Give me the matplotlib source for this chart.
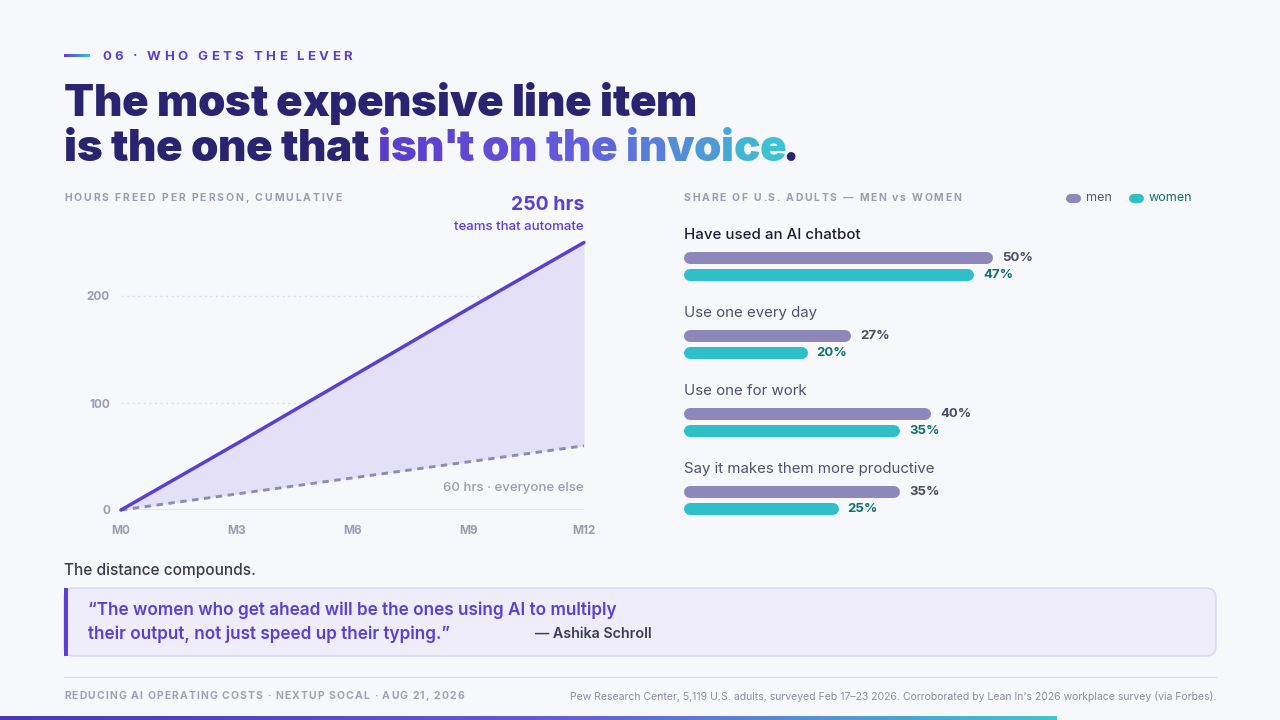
import matplotlib
import numpy as np

matplotlib.use("Agg")
import matplotlib.pyplot as plt  # noqa: E402
from matplotlib.colors import LinearSegmentedColormap  # noqa: E402
from matplotlib.patches import FancyBboxPatch, Rectangle  # noqa: E402

# ---- data -------------------------------------------------------------
months = [0, 3, 6, 9, 12]
month_labels = ["M0", "M3", "M6", "M9", "M12"]
hours_automate = [0, 62, 125, 188, 250]
hours_else = [0, 15, 30, 45, 60]
y_ticks = [0, 100, 200]

questions = [
    "Have used an AI chatbot",
    "Use one every day",
    "Use one for work",
    "Say it makes them more productive",
]
men_pct = [50, 27, 40, 35]
women_pct = [47, 20, 35, 25]

# ---- style ------------------------------------------------------------
BG = "#f7f8fc"
INK = "#2a2370"
PURPLE = "#5b3fd0"
MUTED = "#9d9bb0"
MEN = "#8e87b9"
WOMEN = "#2fbfc8"
MEN_TEXT = "#4c4b60"
WOMEN_TEXT = "#136f6c"
FILL = "#e4e0f8"

plt.rcParams["font.family"] = ["Inter", "DejaVu Sans"]

fig = plt.figure(figsize=(12.8, 7.2), dpi=100, facecolor=BG)
canvas = fig.add_axes([0, 0, 1, 1])
canvas.set_autoscale_on(False)
canvas.set_xlim(0, 1280)
canvas.set_ylim(720, 0)
canvas.axis("off")
renderer = fig.canvas.get_renderer()


def text_width(s, **kw):
    t = canvas.text(0, 0, s, **kw)
    w = t.get_window_extent(renderer).width
    t.remove()
    return w


def tracked_text(x, y, s, target=None, gap=None, colors=None, kern=None, **kw):
    # letter-spaced text: each glyph right-aligned to where it ends naturally, plus tracking
    if gap is None:
        gap = (target - text_width(s, **kw)) / max(len(s) - 1, 1)
    shift = 0.0
    for i, ch in enumerate(s):
        if kern and i in kern:
            shift += kern[i]
        if ch == " ":
            continue
        right = x + text_width(s[: i + 1], **kw) + i * gap + shift
        opts = dict(kw)
        if colors is not None:
            opts["color"] = colors(i)
        canvas.text(right, y, ch, ha="right", **opts)
    return gap


def fit_size(s, target, size=10, **kw):
    return size * target / text_width(s, fontsize=size, **kw)


# ---- header -----------------------------------------------------------
head_cmap = LinearSegmentedColormap.from_list("head", [PURPLE, "#3cc2d1"])
canvas.imshow(np.linspace(0, 1, 64)[None, :], cmap=head_cmap,
              extent=[64, 90, 57.5, 54.5], aspect="auto")
tracked_text(102, 56.5, "06 · WHO GETS THE LEVER", 250,
             fontsize=9.5, fontweight="bold", color=PURPLE, va="center")

title1 = "The most expensive line item"
title2 = "is the one that isn't on the invoice."
title_kw = dict(fontsize=31.5, fontweight="black", va="baseline")
title_gap = tracked_text(64, 116, title1, 633, color=INK, **title_kw)

grad = LinearSegmentedColormap.from_list(
    "title", [(0, "#5a3ec9"), (0.45, "#6653d9"), (0.72, "#5a7ad8"), (1, "#3cc2d1")])
g0 = title2.index("isn't")
g1 = len(title2) - 2


def title_color(i):
    if i < g0 or i > g1:
        return INK
    return grad((i - g0) / (g1 - g0))


apos = title2.index("'")
tracked_text(64, 161, title2, gap=title_gap, colors=title_color,
             kern={apos: -2, apos + 1: -2, len(title2) - 1: -3.5}, **title_kw)

# ---- left: cumulative hours -------------------------------------------
tracked_text(64, 198, "HOURS FREED PER PERSON, CUMULATIVE", 278,
             fontsize=7.5, fontweight="bold", color=MUTED, va="center")

ax = fig.add_axes([121 / 1280, 1 - 510 / 720, 463 / 1280, 267.5 / 720])
ax.set_facecolor("none")
ax.set_xlim(0, 12)
ax.set_ylim(0, 250)
for sp in ax.spines.values():
    sp.set_visible(False)
ax.axhline(0, color="#e3e2ed", lw=1.3, zorder=0)
for v in y_ticks[1:]:
    ax.axhline(v, color="#dcdbe9", lw=1, ls=(0, (1.5, 2.5)), zorder=0)
ax.fill_between(months, hours_else, hours_automate, color=FILL, lw=0, zorder=1)
ax.plot(months, hours_else, color="#908cb0", lw=2.1, ls=(0, (2.2, 1.9)),
        clip_on=False, zorder=2)
ax.plot(months, hours_automate, color=PURPLE, lw=2.5, clip_on=False,
        solid_capstyle="round", zorder=3)
ax.set_yticks(y_ticks)
ax.set_xticks(months, month_labels)
ax.tick_params(axis="y", length=0, pad=8, colors=MUTED, labelsize=8.5)
ax.tick_params(axis="x", length=0, pad=11, colors=MUTED, labelsize=8.5)
for lbl in ax.get_xticklabels() + ax.get_yticklabels():
    lbl.set_fontweight("bold")

canvas.text(584, 205, f"{hours_automate[-1]} hrs", ha="right", va="center",
            fontsize=14, fontweight="bold", color=PURPLE)
canvas.text(584, 226.5, "teams that automate", ha="right", va="center",
            fontsize=9.5, fontweight="medium", color=PURPLE)
canvas.text(584, 488, f"{hours_else[-1]} hrs · everyone else", ha="right", va="center",
            fontsize=9.5, fontweight="medium", color=MUTED)

# ---- right: men vs women ----------------------------------------------
tracked_text(684, 198, "SHARE OF U.S. ADULTS — MEN vs WOMEN", 277,
             fontsize=7.5, fontweight="bold", color=MUTED, va="center")

for x0, col, label, tcol in ((1065, MEN, "men", "#57566c"), (1128, WOMEN, "women", WOMEN_TEXT)):
    canvas.plot([x0 + 4.5, x0 + 10.5], [198, 198], color=col, lw=6.5, solid_capstyle="round")
    canvas.text(x0 + 21, 198, label, va="center", fontsize=9, color=tcol)

px_per_pct = 6.18
bar_w_px = 500
bx = fig.add_axes([684 / 1280, 1 - 520 / 720, bar_w_px / 1280, 300 / 720])
bx.set_facecolor("none")
bx.set_xlim(0, bar_w_px / px_per_pct)
bx.set_ylim(3.25, -0.596)
bx.axis("off")

bar_h_px = 12
r = (bar_h_px / 2) / px_per_pct
for i, q in enumerate(questions):
    pairs = ((men_pct[i], -0.109, MEN, MEN_TEXT), (women_pct[i], 0.109, WOMEN, WOMEN_TEXT))
    for val, off, col, tcol in pairs:
        bx.plot([r, val - r], [i + off, i + off], color=col, lw=bar_h_px * 0.72,
                solid_capstyle="round")
        bx.annotate(f"{val}%", (val, i + off), xytext=(6.5, 0), textcoords="offset points",
                    ha="left", va="center", fontsize=9.5, fontweight="bold", color=tcol)
    first = i == 0
    bx.text(0, i - 0.404, q, ha="left", va="center", fontsize=10.8,
            fontweight="medium" if first else "normal",
            color="#1f1d35" if first else "#50506a")

# ---- quote ------------------------------------------------------------
s = "The distance compounds."
canvas.text(64, 571, s, va="center", color="#3b3a4e", fontweight="medium",
            fontsize=fit_size(s, 192, fontweight="medium"))

canvas.add_patch(FancyBboxPatch((64, 588), 1152, 68, boxstyle="round,pad=0,rounding_size=10",
                                fc="#eeedf9", ec="#d9d6f1", lw=1))
canvas.add_patch(Rectangle((64, 588), 4, 68, color=PURPLE, lw=0))

q1 = "\u201cThe women who get ahead will be the ones using AI to multiply"
q2 = "their output, not just speed up their typing.\u201d"
qsize = fit_size(q1, 526, fontweight="semibold")
canvas.text(88, 610.5, q1, va="center", fontsize=qsize, fontweight="semibold", color=PURPLE)
canvas.text(88, 634.5, q2, va="center", fontsize=qsize, fontweight="semibold", color=PURPLE)
s = "— Ashika Schroll"
canvas.text(535, 634.5, s, va="center", color="#3d3c52", fontweight="semibold",
            fontsize=fit_size(s, 116, fontweight="semibold"))

# ---- footer -----------------------------------------------------------
canvas.plot([64, 1216], [677, 677], color="#e2e1ea", lw=1)
tracked_text(64, 696, "REDUCING AI OPERATING COSTS · NEXTUP SOCAL · AUG 21, 2026", 400,
             fontsize=7.5, fontweight="bold", color="#a2a0b4", va="center")
s = ("Pew Research Center, 5,119 U.S. adults, surveyed Feb 17\u201323 2026. "
     "Corroborated by Lean In's 2026 workplace survey (via Forbes).")
canvas.text(1216, 696, s, ha="right", va="center", color="#8f8da2",
            fontsize=fit_size(s, 651))

bar_cmap = LinearSegmentedColormap.from_list("bar", ["#4b36b5", "#6a55d8", "#45c4cc"])
canvas.imshow(np.linspace(0, 1, 256)[None, :], cmap=bar_cmap,
              extent=[0, 1057, 720, 716], aspect="auto")

canvas.set_xlim(0, 1280)
canvas.set_ylim(720, 0)
fig.savefig("out.png", dpi=100, facecolor=BG)
